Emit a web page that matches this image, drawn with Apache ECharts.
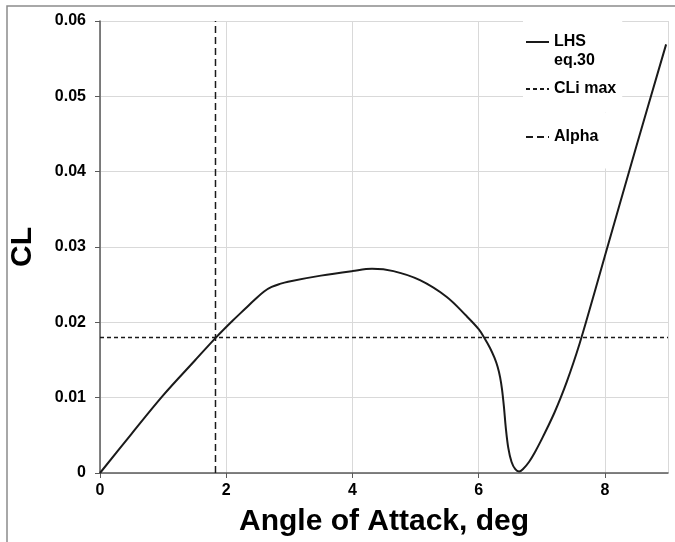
<!DOCTYPE html>
<html>
<head>
<meta charset="utf-8">
<title>CL vs Angle of Attack</title>
<script src="https://cdn.jsdelivr.net/npm/echarts@6/dist/echarts.min.js"></script>
<style>
  html, body { margin: 0; padding: 0; background: #fff; }
  #chart { width: 675px; height: 542px; }
</style>
</head>
<body>
<div id="chart"></div>
<script>
// angle of attack (deg) and lift coefficient
const alphaDeg = [0, 0.5, 1.0, 1.5, 1.84, 2.1, 2.3, 2.45, 2.6, 2.72, 2.85, 2.98, 3.5, 4.0, 4.31, 4.65, 5.07, 5.49, 5.8, 6.0, 6.1, 6.18, 6.25, 6.3, 6.34, 6.37, 6.4, 6.43, 6.47, 6.52, 6.58, 6.64, 6.7, 6.8, 6.9, 7.0, 7.1, 7.2, 7.3, 7.4, 7.5, 7.6, 7.7, 8.0, 8.5, 8.97]
const clLhs = [0, 0.0052, 0.0103, 0.0149, 0.018, 0.0202, 0.0218, 0.0230, 0.0241, 0.0247, 0.0251, 0.0254, 0.0262, 0.0268, 0.0271, 0.0268, 0.0256, 0.0234, 0.0209, 0.0191, 0.0178, 0.0166, 0.0153, 0.0141, 0.0127, 0.0111, 0.0088, 0.0060, 0.0033, 0.0015, 0.0005, 0.0002, 0.0005, 0.0015, 0.0029, 0.0045, 0.0062, 0.0080, 0.0100, 0.0122, 0.0146, 0.0172, 0.0200, 0.0288, 0.0434, 0.0569]

// reference lines
const cliMax = 0.018
const alphaMark = 1.83
const xRange = [0, 9]
const yRange = [0, 0.06]

const chart = echarts.init(document.getElementById('chart'))

const boldFont = 'Liberation Sans, Arial, sans-serif'

const option = {
  backgroundColor: '#fff',
  animation: false,
  grid: {
    left: 97,
    right: 7,
    top: 21,
    bottom: 69
  },
  graphic: [
    {
      type: 'rect',
      shape: { x: 7, y: 6, width: 700, height: 600 },
      style: { fill: 'none', stroke: '#8c8c8c', lineWidth: 1.5 },
      silent: true
    }
  ],
  legend: [
    {
      orient: 'vertical',
      left: 523,
      top: 9.5,
      padding: [4, 6, 14, 2],
      itemGap: 9,
      itemWidth: 23,
      itemHeight: 12,
      selectedMode: false,
      backgroundColor: '#fff',
      itemStyle: { color: 'rgba(0,0,0,0)', borderWidth: 0 },
      data: ['LHS eq.30', 'CLi max'],
      formatter: (name) => (name === 'LHS eq.30' ? ' \nLHS\neq.30' : name),
      textStyle: { fontFamily: boldFont, fontWeight: 'bold', fontSize: 16, color: '#000', lineHeight: 19 }
    },
    {
      orient: 'vertical',
      left: 523,
      top: 112.5,
      padding: [15, 20, 22, 2],
      itemWidth: 23,
      itemHeight: 12,
      selectedMode: false,
      backgroundColor: '#fff',
      itemStyle: { color: 'rgba(0,0,0,0)', borderWidth: 0 },
      data: ['Alpha'],
      textStyle: { fontFamily: boldFont, fontWeight: 'bold', fontSize: 16, color: '#000', lineHeight: 19 }
    }
  ],
  xAxis: {
    type: 'value',
    min: xRange[0],
    max: xRange[1],
    interval: 2,
    name: 'Angle of Attack, deg',
    nameLocation: 'middle',
    nameGap: 34,
    nameTextStyle: { fontFamily: boldFont, fontWeight: 'bold', fontSize: 30, color: '#000' },
    axisLine: { lineStyle: { color: '#595959', width: 1.5 } },
    axisTick: { length: 5, lineStyle: { color: '#595959' } },
    axisLabel: {
      margin: 10,
      showMaxLabel: false,
      fontFamily: boldFont,
      fontWeight: 'bold',
      fontSize: 16,
      color: '#000'
    },
    splitLine: { lineStyle: { color: '#d9d9d9', width: 1 } }
  },
  yAxis: {
    type: 'value',
    min: yRange[0],
    max: yRange[1],
    interval: 0.01,
    name: 'CL',
    nameLocation: 'middle',
    nameGap: 62,
    nameTextStyle: { fontFamily: boldFont, fontWeight: 'bold', fontSize: 30, color: '#000' },
    axisLine: { show: true, lineStyle: { color: '#595959', width: 1.5 } },
    axisTick: { show: true, length: 5, lineStyle: { color: '#595959' } },
    axisLabel: {
      margin: 14,
      fontFamily: boldFont,
      fontWeight: 'bold',
      fontSize: 16,
      color: '#000',
      formatter: (v) => (v === 0 ? '0' : v.toFixed(2))
    },
    splitLine: { lineStyle: { color: '#d9d9d9', width: 1 } }
  },
  series: [
    {
      name: 'LHS eq.30',
      type: 'line',
      data: alphaDeg.map((a, i) => [a, clLhs[i]]),
      smooth: 0.35,
      symbol: 'none',
      lineStyle: { color: '#1a1a1a', width: 2 },
      itemStyle: { color: '#1a1a1a' },
      z: 3
    },
    {
      name: 'CLi max',
      type: 'line',
      data: [[xRange[0], cliMax], [xRange[1], cliMax]],
      symbol: 'none',
      lineStyle: { color: '#1a1a1a', width: 1.5, type: [4, 3] },
      itemStyle: { color: '#1a1a1a' }
    },
    {
      name: 'Alpha',
      type: 'line',
      data: [[alphaMark, yRange[0]], [alphaMark, yRange[1]]],
      symbol: 'none',
      lineStyle: { color: '#1a1a1a', width: 1.5, type: [7, 4] },
      itemStyle: { color: '#1a1a1a' }
    }
  ]
}

chart.setOption(option)

window.addEventListener('resize', () => {
  chart && chart.resize()
})
</script>
</body>
</html>
